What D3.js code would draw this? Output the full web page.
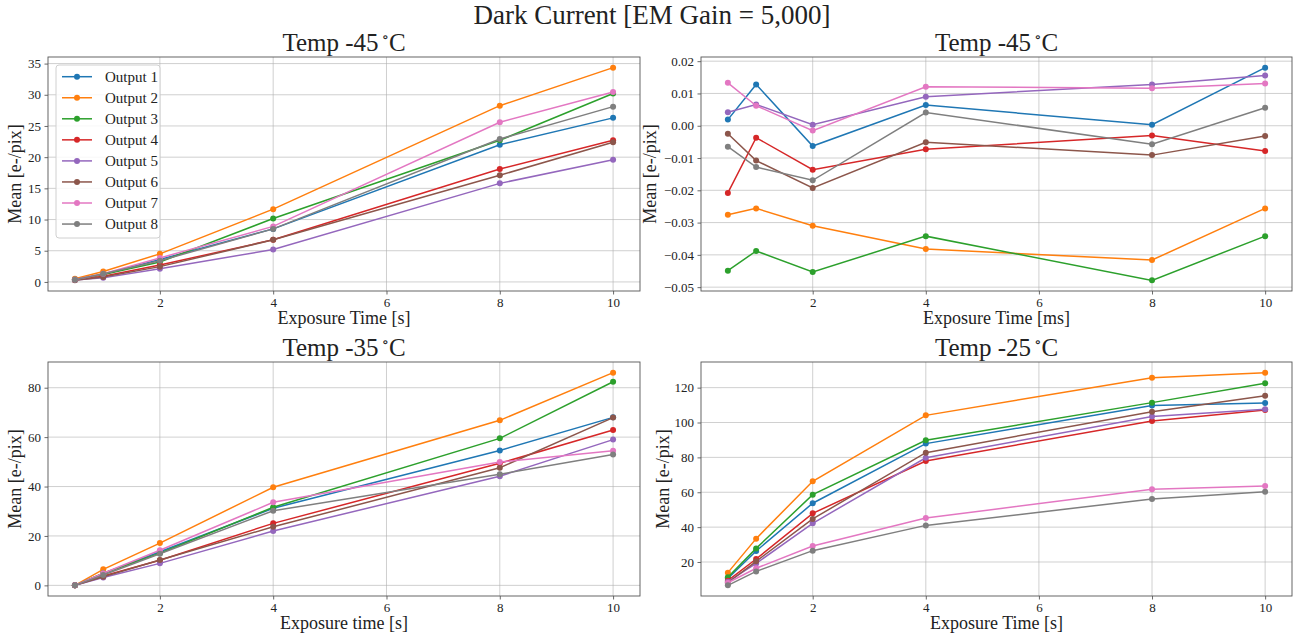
<!DOCTYPE html>
<html>
<head>
<meta charset="utf-8">
<script src="https://cdn.jsdelivr.net/npm/d3@7"></script>
<style>
  html, body { margin: 0; padding: 0; background: #fff; }
  svg { display: block; }
  text { font-family: "Liberation Serif", "DejaVu Serif", serif; fill: #222; }
</style>
</head>
<body>
<svg id="chart" width="1296" height="636"></svg>
<script>
// ---------- data ----------
const exposure = [0.5, 1, 2, 4, 8, 10];
const outputs = ["Output 1", "Output 2", "Output 3", "Output 4", "Output 5", "Output 6", "Output 7", "Output 8"];
const colors = ["#1f77b4", "#ff7f0e", "#2ca02c", "#d62728", "#9467bd", "#8c564b", "#e377c2", "#7f7f7f"];

// Temp -45 C, exposure [s]
const tempM45s = [
  [0.4, 1.2, 3.6, 8.5, 22.0, 26.3],
  [0.5, 1.66, 4.5, 11.66, 28.25, 34.35],
  [0.4, 1.2, 3.2, 10.17, 22.7, 30.2],
  [0.3, 0.9, 2.7, 6.75, 18.1, 22.7],
  [0.3, 0.65, 2.1, 5.2, 15.8, 19.6],
  [0.25, 0.8, 2.45, 6.75, 17.1, 22.4],
  [0.4, 1.3, 3.85, 8.9, 25.6, 30.45],
  [0.35, 1.3, 3.4, 8.5, 22.9, 28.1]
];
// Temp -45 C, exposure [ms]
const tempM45ms = [
  [0.0019, 0.0128, -0.0063, 0.0064, 0.0003, 0.0180],
  [-0.0276, -0.0256, -0.0310, -0.0382, -0.0416, -0.0256],
  [-0.0449, -0.0388, -0.0453, -0.0342, -0.0479, -0.0342],
  [-0.0208, -0.0037, -0.0136, -0.0073, -0.0030, -0.0078],
  [0.0042, 0.0066, 0.0003, 0.0090, 0.0128, 0.0156],
  [-0.0025, -0.0108, -0.0193, -0.0051, -0.0091, -0.0032],
  [0.0133, 0.0062, -0.0015, 0.0121, 0.0116, 0.0131],
  [-0.0065, -0.0128, -0.0169, 0.0041, -0.0057, 0.0056]
];
// Temp -35 C
const tempM35 = [
  [0, 4.8, 13.6, 31.2, 54.6, 68.0],
  [0, 6.5, 17.1, 39.7, 66.8, 86.1],
  [0, 4.9, 13.0, 31.6, 59.5, 82.4],
  [0, 3.8, 10.2, 25.1, 49.4, 62.9],
  [0, 3.2, 8.9, 22.0, 44.2, 59.0],
  [0, 3.5, 10.3, 23.7, 47.6, 67.9],
  [0, 4.9, 14.2, 33.6, 49.9, 54.5],
  [0, 4.2, 12.8, 30.2, 45.0, 53.0]
];
// Temp -25 C
const tempM25 = [
  [10.6, 26.3, 53.7, 87.9, 109.7, 111.2],
  [13.9, 33.4, 66.3, 104.1, 125.7, 128.6],
  [11.2, 27.8, 58.6, 89.8, 111.4, 122.5],
  [9.3, 21.7, 47.9, 77.9, 100.9, 107.2],
  [8.7, 19.2, 42.2, 79.8, 103.4, 107.6],
  [8.1, 20.4, 44.7, 82.7, 106.2, 115.4],
  [8.1, 16.4, 29.2, 45.2, 61.7, 63.6],
  [6.6, 14.6, 26.5, 41.0, 56.1, 60.3]
];

const xTicks = [2, 4, 6, 8, 10];
const yTicksA = [0, 5, 10, 15, 20, 25, 30, 35];
const yTicksB = [-0.05, -0.04, -0.03, -0.02, -0.01, 0.00, 0.01, 0.02];
const yTicksC = [0, 20, 40, 60, 80];
const yTicksD = [20, 40, 60, 80, 100, 120];

const suptitle = "Dark Current [EM Gain = 5,000]";

const panels = [
  { temp: "-45", xlabel: "Exposure Time [s]", data: tempM45s, yticks: yTicksA, fmt: d3.format("d"),
    box: [48, 57, 640, 291], ylabX: 17, legend: true },
  { temp: "-45", xlabel: "Exposure Time [ms]", data: tempM45ms, yticks: yTicksB, fmt: v => d3.format(".2f")(v).replace("-", "\u2212"),
    box: [701, 57, 1292, 291], ylabX: 652, legend: false },
  { temp: "-35", xlabel: "Exposure time [s]", data: tempM35, yticks: yTicksC, fmt: d3.format("d"),
    box: [48, 362, 640, 596], ylabX: 17, legend: false },
  { temp: "-25", xlabel: "Exposure Time [s]", data: tempM25, yticks: yTicksD, fmt: d3.format("d"),
    box: [701, 362, 1292, 596], ylabX: 665, legend: false }
];

const svg = d3.select("#chart");

svg.append("text")
  .attr("x", 652).attr("y", 24)
  .attr("text-anchor", "middle")
  .style("font-size", "27px")
  .text(suptitle);

function pad(ext) {
  const span = ext[1] - ext[0];
  return [ext[0] - 0.05 * span, ext[1] + 0.05 * span];
}

panels.forEach(p => {
  const [x0, y0, x1, y1] = p.box;
  const g = svg.append("g");
  const x = d3.scaleLinear().domain(pad(d3.extent(exposure))).range([x0, x1]);
  const allVals = p.data.flat();
  const y = d3.scaleLinear().domain(pad(d3.extent(allVals))).range([y1, y0]);

  // grid
  g.append("g").selectAll("line").data(xTicks).join("line")
    .attr("x1", d => x(d)).attr("x2", d => x(d))
    .attr("y1", y0).attr("y2", y1)
    .attr("stroke", "#b0b0b0").attr("stroke-opacity", 0.6).attr("stroke-width", 1);
  g.append("g").selectAll("line").data(p.yticks).join("line")
    .attr("x1", x0).attr("x2", x1)
    .attr("y1", d => y(d)).attr("y2", d => y(d))
    .attr("stroke", "#b0b0b0").attr("stroke-opacity", 0.6).attr("stroke-width", 1);

  // axes
  const xAxis = d3.axisBottom(x).tickValues(xTicks).tickSize(3.5).tickPadding(3.5).tickFormat(d3.format("d"));
  const yAxis = d3.axisLeft(y).tickValues(p.yticks).tickSize(3.5).tickPadding(3.5).tickFormat(p.fmt);
  const gx = g.append("g").attr("transform", `translate(0,${y1})`).call(xAxis);
  const gy = g.append("g").attr("transform", `translate(${x0},0)`).call(yAxis);
  [gx, gy].forEach(a => {
    a.select(".domain").remove();
    a.selectAll(".tick line").attr("stroke", "#444").attr("stroke-width", 0.8);
    a.selectAll(".tick text").attr("fill", "#222")
      .style("font-family", '"Liberation Serif", serif').style("font-size", "13px");
  });

  // spines
  g.append("rect")
    .attr("x", x0).attr("y", y0).attr("width", x1 - x0).attr("height", y1 - y0)
    .attr("fill", "none").attr("stroke", "#555").attr("stroke-width", 0.9);

  // lines
  const line = d3.line().x((d, i) => x(exposure[i])).y(d => y(d));
  p.data.forEach((series, si) => {
    g.append("path").datum(series)
      .attr("d", line)
      .attr("fill", "none").attr("stroke", colors[si]).attr("stroke-width", 1.5);
    g.append("g").selectAll("circle").data(series).join("circle")
      .attr("cx", (d, i) => x(exposure[i])).attr("cy", d => y(d))
      .attr("r", 3).attr("fill", colors[si]);
  });

  // title
  const cx = (x0 + x1) / 2;
  const t = svg.append("text")
    .attr("x", cx).attr("y", y0 - 6)
    .attr("text-anchor", "middle")
    .style("font-size", "25px");
  t.append("tspan").text("Temp " + p.temp);
  t.append("tspan").attr("dx", 3).attr("dy", -9).style("font-size", "15px").text("\u2218");
  t.append("tspan").attr("dy", 9).text("C");

  // x label
  svg.append("text")
    .attr("x", cx).attr("y", y1 + 33)
    .attr("text-anchor", "middle")
    .style("font-size", "18px")
    .text(p.xlabel);

  // y label
  svg.append("text")
    .attr("transform", `translate(${p.ylabX},${(y0 + y1) / 2}) rotate(-90)`)
    .attr("text-anchor", "middle")
    .attr("dominant-baseline", "middle")
    .style("font-size", "18px")
    .text("Mean [e-/pix]");

  // legend
  if (p.legend) {
    const lg = svg.append("g");
    const lx = 56, ly = 65, rowH = 21.05;
    lg.append("rect")
      .attr("x", lx).attr("y", ly).attr("width", 104).attr("height", 173)
      .attr("rx", 3).attr("fill", "#fff").attr("fill-opacity", 0.85)
      .attr("stroke", "#d0d0d0").attr("stroke-width", 1);
    outputs.forEach((name, i) => {
      const yy = 76.7 + i * rowH;
      lg.append("line").attr("x1", 62).attr("x2", 92).attr("y1", yy).attr("y2", yy)
        .attr("stroke", colors[i]).attr("stroke-width", 1.5);
      lg.append("circle").attr("cx", 77).attr("cy", yy).attr("r", 3).attr("fill", colors[i]);
      lg.append("text").attr("x", 105).attr("y", yy)
        .attr("dominant-baseline", "central")
        .style("font-size", "15px").text(name);
    });
  }
});
</script>
</body>
</html>
